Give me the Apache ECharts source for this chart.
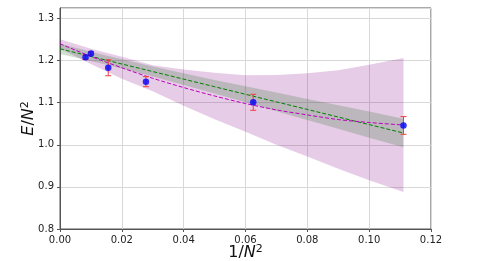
<!DOCTYPE html>
<html>
<head>
<meta charset="utf-8">
<script src="https://cdn.jsdelivr.net/npm/echarts@6/dist/echarts.min.js"></script>
<style>
html,body{margin:0;padding:0;background:#fff;}
#chart{width:479px;height:261px;}
</style>
</head>
<body>
<div id="chart"></div>
<script>
// Measured data points (x = 1/N^2)
const pointX = [0.00826, 0.0100, 0.0156, 0.0278, 0.0625, 0.1111];
const pointY = [1.208, 1.217, 1.183, 1.150, 1.101, 1.046];
const pointErr = [0.005, 0.004, 0.019, 0.012, 0.019, 0.021];

// Fit curves
const fitX = [0, 0.01, 0.02, 0.03, 0.04, 0.05, 0.06, 0.07, 0.08, 0.09, 0.10, 0.1111];
const linFit   = [1.228, 1.210, 1.192, 1.174, 1.156, 1.138, 1.120, 1.102, 1.084, 1.066, 1.048, 1.028];
const linUpper = [1.240, 1.221, 1.203, 1.186, 1.170, 1.154, 1.139, 1.124, 1.109, 1.094, 1.079, 1.062];
const linLower = [1.216, 1.199, 1.181, 1.162, 1.142, 1.122, 1.101, 1.080, 1.059, 1.038, 1.017, 0.994];
const quadFit   = [1.240, 1.210, 1.183, 1.158, 1.136, 1.116, 1.098, 1.083, 1.071, 1.060, 1.053, 1.047];
const quadUpper = [1.251, 1.228, 1.209, 1.189, 1.179, 1.171, 1.165, 1.166, 1.170, 1.177, 1.190, 1.206];
const quadLower = [1.229, 1.192, 1.157, 1.127, 1.093, 1.061, 1.031, 1.000, 0.972, 0.943, 0.916, 0.888];

// Axis ticks
const xTicks = [0, 0.02, 0.04, 0.06, 0.08, 0.10, 0.12];
const yTicks = [0.8, 0.9, 1.0, 1.1, 1.2, 1.3];

const chart = echarts.init(document.getElementById('chart'), null, {renderer: 'canvas'});

function bandRender(upper, lower, color) {
  return function (params, api) {
    const pts = [];
    for (let i = 0; i < fitX.length; i++) pts.push(api.coord([fitX[i], upper[i]]));
    for (let i = fitX.length - 1; i >= 0; i--) pts.push(api.coord([fitX[i], lower[i]]));
    return {type: 'polygon', shape: {points: pts}, style: {fill: color}};
  };
}

const font = 'DejaVu Sans';
const tickColor = '#222';
const nameRich = {
  n: {fontFamily: font, fontSize: 16, color: '#111'},
  i: {fontFamily: font, fontSize: 16, fontStyle: 'italic', color: '#111'},
  s: {fontFamily: font, fontSize: 11, color: '#111', verticalAlign: 'top', padding: [0, 0, 7, 0]}
};

const option = {
  animation: false,
  backgroundColor: '#fff',
  grid: {left: 60, right: 48, top: 8, bottom: 32, show: true, borderColor: '#555', borderWidth: 1,
         containLabel: false, outerBoundsMode: 'none'},
  xAxis: {
    type: 'value', min: 0, max: 0.12, interval: 0.02,
    axisLine: {show: true, lineStyle: {color: '#555', width: 1}},
    axisTick: {show: true, length: 3, lineStyle: {color: '#555'}},
    axisLabel: {color: tickColor, fontFamily: font, fontSize: 10, margin: 6,
      formatter: v => v.toFixed(2)},
    splitLine: {show: true, lineStyle: {color: '#d8d8d8', width: 1}},
    name: '{n|1/}{i|N}{s|2}', nameLocation: 'middle', nameGap: 15, nameMoveOverlap: false,
    nameTextStyle: {fontFamily: font, fontSize: 16, color: '#111', rich: nameRich}
  },
  yAxis: {
    type: 'value', min: 0.8, max: 1.325, interval: 0.1,
    axisLine: {show: true, lineStyle: {color: '#555', width: 1}},
    axisTick: {show: true, length: 3, lineStyle: {color: '#555'}},
    axisLabel: {color: tickColor, fontFamily: font, fontSize: 10, margin: 6, showMaxLabel: false,
      formatter: v => v.toFixed(1)},
    splitLine: {show: true, lineStyle: {color: '#d8d8d8', width: 1}},
    name: '{i|E}{n|/}{i|N}{s|2}', nameLocation: 'middle', nameGap: 22, nameMoveOverlap: false,
    nameTextStyle: {fontFamily: font, fontSize: 16, color: '#111', rich: nameRich}
  },
  series: [
    {type: 'custom', name: 'quadBand', renderItem: bandRender(quadUpper, quadLower, 'rgba(128,0,128,0.2)'),
     data: [[0, 1]], z: 1, silent: true},
    {type: 'custom', name: 'linBand', renderItem: bandRender(linUpper, linLower, 'rgba(40,110,40,0.22)'),
     data: [[0, 1]], z: 2, silent: true},
    {type: 'line', name: 'linFit', data: fitX.map((x, i) => [x, linFit[i]]), showSymbol: false, z: 3,
     lineStyle: {color: '#008000', width: 1, type: [4, 2]}},
    {type: 'line', name: 'quadFit', data: fitX.map((x, i) => [x, quadFit[i]]), showSymbol: false, smooth: 0.3, z: 3,
     lineStyle: {color: '#bf00bf', width: 1, type: [4, 2]}},
    {type: 'custom', name: 'err', z: 4,
     data: pointX.map((x, i) => [x, pointY[i], pointErr[i]]),
     renderItem: function (params, api) {
       const x = api.value(0), y = api.value(1), e = api.value(2);
       const top = api.coord([x, y + e]);
       const bot = api.coord([x, y - e]);
       const c = 3;
       const st = {stroke: '#f03c3c', lineWidth: 1};
       return {type: 'group', children: [
         {type: 'line', shape: {x1: top[0], y1: top[1], x2: bot[0], y2: bot[1]}, style: st},
         {type: 'line', shape: {x1: top[0] - c, y1: top[1], x2: top[0] + c, y2: top[1]}, style: st},
         {type: 'line', shape: {x1: bot[0] - c, y1: bot[1], x2: bot[0] + c, y2: bot[1]}, style: st}
       ]};
     }},
    {type: 'scatter', name: 'points', data: pointX.map((x, i) => [x, pointY[i]]), symbolSize: 6.5, z: 5,
     itemStyle: {color: '#0000ff'}}
  ]
};
chart.setOption(option);
</script>
</body>
</html>
